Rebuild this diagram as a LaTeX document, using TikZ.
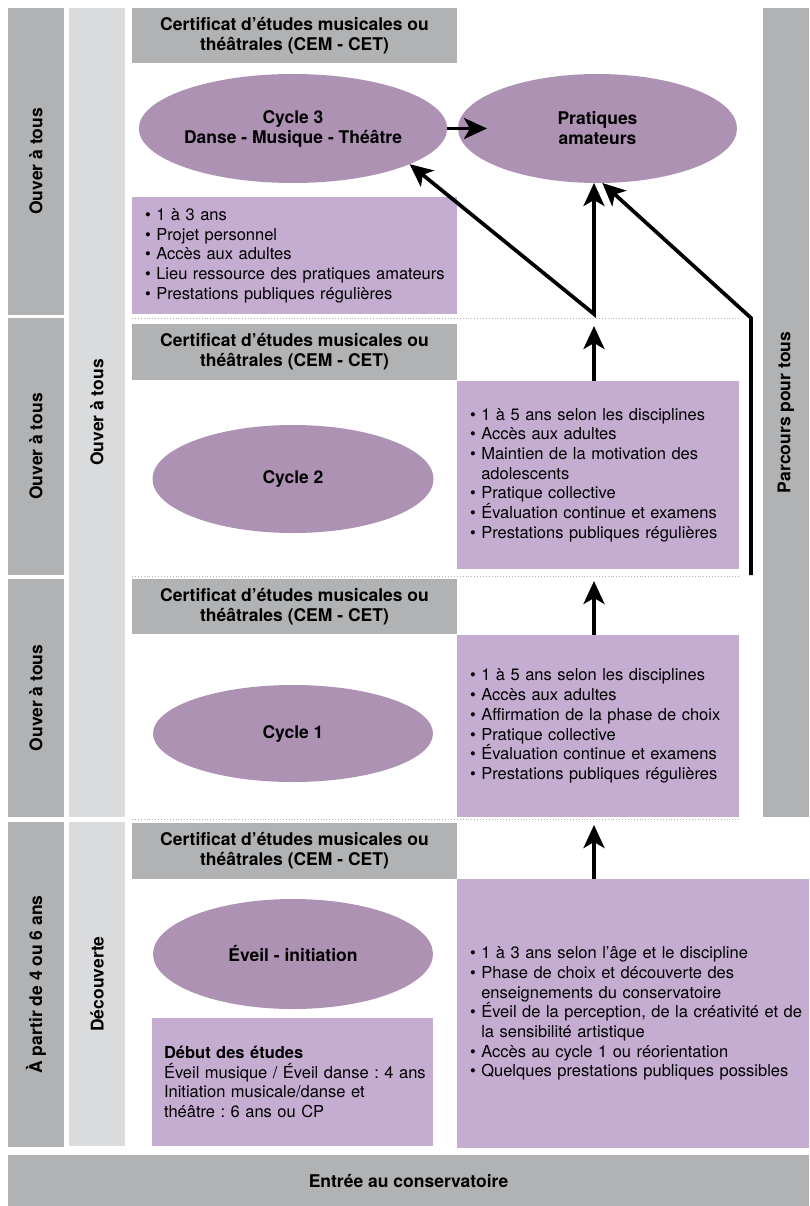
\documentclass[tikz,border=0pt]{standalone}
\usepackage{fontspec}
\setmainfont{TeX Gyre Heros}
\usetikzlibrary{shapes.geometric,arrows.meta,calc,positioning}
\definecolor{bandgray}{HTML}{B1B2B4}
\definecolor{palegray}{HTML}{DADBDD}
\definecolor{cyclepurple}{HTML}{AE92B4}
\definecolor{notepurple}{HTML}{C4ADD1}
\frenchspacing
\newcommand{\puce}{\textbullet\ }
\newcommand{\suite}{\hphantom{\textbullet\ }}
\tikzset{
	bigbold/.style={font=\fontsize{17.5}{20}\selectfont\bfseries},
	band/.style={fill=bandgray,inner sep=0pt,outer sep=0pt,align=center,bigbold},
	vband/.style={band,rotate=90},
	pale/.style={fill=palegray,inner sep=0pt,outer sep=0pt,rotate=90,bigbold},
	cem/.style={band,minimum width=325pt,minimum height=#1},
	cem/.default=55pt,
	cyc/.style={ellipse,fill=cyclepurple,inner sep=0pt,outer sep=0pt,align=center,bigbold},
	note/.style={fill=notepurple,inner sep=0pt,outer sep=0pt,align=left,
		font=\fontsize{16.5}{19.7}\selectfont,
		execute at begin node={\leftskip=#1}},
	note/.default=13pt,
	sep/.style={draw=black!30,dotted,line width=0.9pt},
	up/.style={line width=3.7pt,-{Stealth[length=23pt,width=21pt,inset=6pt]}},
	twoway/.style={line width=3.7pt,{Stealth[length=23pt,width=21pt,inset=6pt]}-{Stealth[length=23pt,width=21pt,inset=6pt]}}
}

\begin{document}
\begin{tikzpicture}[x=1pt,y=-1pt]
	\useasboundingbox (0,0) rectangle (809,1206);
	% side bands
	\node[vband,minimum width=307pt,minimum height=56pt] (l3) at (36,161.5) {Ouver à tous};
	\node[vband,minimum width=257pt,minimum height=56pt] (l2) at (36,446.5) {Ouver à tous};
	\node[vband,minimum width=238pt,minimum height=56pt] (l1) at (36,698) {Ouver à tous};
	\node[vband,minimum width=325pt,minimum height=56pt] (l0) at (36,984.5) {À partir de 4 ou 6 ans};
	\node[pale,minimum width=809pt,minimum height=56pt] (m1) at (97,412.5) {Ouver à tous};
	\node[pale,minimum width=324pt,minimum height=56pt] (m0) at (97,984) {Découverte};
	\node[vband,minimum width=809pt,minimum height=46pt] (pt) at (786,412.5) {Parcours pour tous};
	\node[band,minimum width=801pt,minimum height=51pt] (entree) at (408.5,1180.5) {Entrée au conservatoire};
	% certificats
	\node[cem] (cem3) at (294.5,35.5) {Certificat d’études musicales ou\\théâtrales (CEM - CET)};
	\node[cem=56pt] (cem2) at (294.5,352) {Certificat d’études musicales ou\\théâtrales (CEM - CET)};
	\node[cem] (cem1) at (294.5,606.5) {Certificat d’études musicales ou\\théâtrales (CEM - CET)};
	\node[cem=56pt] (cem0) at (294.5,851) {Certificat d’études musicales ou\\théâtrales (CEM - CET)};
	% cycles
	\node[cyc,minimum width=281pt,minimum height=109pt] (c3) at (293,128.5) {Cycle 3\\Danse - Musique - Théâtre};
	\node[cyc,minimum width=279pt,minimum height=109pt] (pa) at (597.5,128.5) {Pratiques\\amateurs};
	\node[cyc,minimum width=281pt,minimum height=108pt] (c2) at (293,479) {Cycle 2};
	\node[cyc,minimum width=280pt,minimum height=97pt] (c1) at (293,733.5) {Cycle 1};
	\node[cyc,minimum width=280pt,minimum height=110pt] (c0) at (293,954) {Éveil - initiation};
	% notes
	\node[note,text width=325pt,minimum height=117pt] (n3) at (294.5,255.5) {%
		\puce 1 à 3 ans\\
		\puce Projet personnel\\
		\puce Accès aux adultes\\
		\puce Lieu ressource des pratiques amateurs\\
		\puce Prestations publiques régulières};
	\node[note,text width=282pt,minimum height=188pt] (n2) at (598,475) {%
		\puce 1 à 5 ans selon les disciplines\\
		\puce Accès aux adultes\\
		\puce Maintien de la motivation des\\
		\suite adolescents\\
		\puce Pratique collective\\
		\puce Évaluation continue et examens\\
		\puce Prestations publiques régulières};
	\node[note,text width=282pt,minimum height=182pt] (n1) at (598,726) {%
		\puce 1 à 5 ans selon les disciplines\\
		\puce Accès aux adultes\\
		\puce Affirmation de la phase de choix\\
		\puce Pratique collective\\
		\puce Évaluation continue et examens\\
		\puce Prestations publiques régulières};
	\node[note,text width=352pt,minimum height=269pt] (n0) at (633,1013.5) {%
		\puce 1 à 3 ans selon l’âge et le discipline\\
		\puce Phase de choix et découverte des\\
		\suite enseignements du conservatoire\\
		\puce Éveil de la perception, de la créativité et de\\
		\suite la sensibilité artistique\\
		\puce Accès au cycle 1 ou réorientation\\
		\puce Quelques prestations publiques possibles};
	\node[note=12pt,text width=281pt,minimum height=128pt] (deb) at (292.5,1082) {%
		\textbf{Début des études}\\
		Éveil musique / Éveil danse : 4 ans\\
		Initiation musicale/danse et\\
		théâtre : 6 ans ou CP};
	% separators
	\foreach \y in {318.5,576.5,819.5}
		\draw[sep] (cem3.west |- 0,\y) -- (741,\y);
	% arrows
	\coordinate (hx) at (487,128.5);
	\coordinate (vb) at (594,314);
	\coordinate (ax) at (594,0);
	\coordinate (rb) at (751,575);
	\coordinate (rk) at (751,318);
	\draw[up] (c3.east) -- (hx);
	\draw[twoway] (vb |- pa.south) -- (vb) -- (c3.-17);
	\draw[up] (rb) -- (rk) -- (pa.-85);
	\draw[up,shorten >=2pt] (ax |- n2.north) -- (ax |- cem2.north);
	\draw[up,shorten >=2pt] (ax |- n1.north) -- (ax |- cem1.north);
	\draw[up,shorten >=2pt] (ax |- n0.north) -- (ax |- cem0.north);
\end{tikzpicture}
\end{document}
